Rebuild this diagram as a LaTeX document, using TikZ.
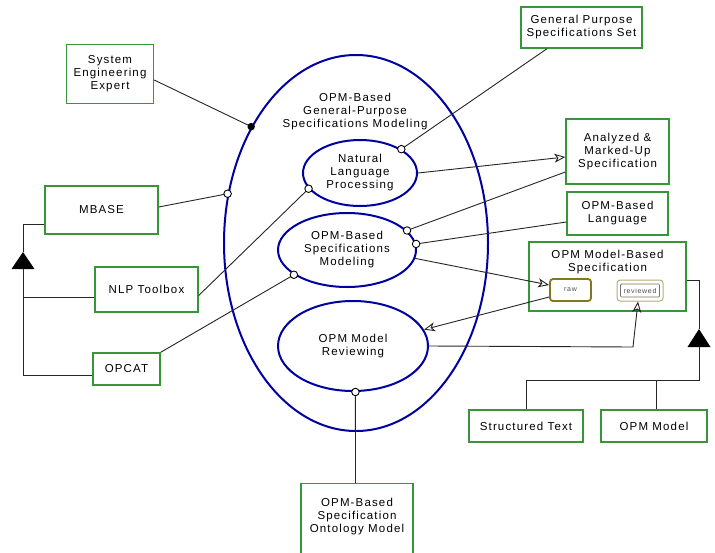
\documentclass[tikz,border=0pt]{standalone}
\usepackage{fontspec}
\setmainfont{Liberation Sans}[LetterSpace=10]
\usetikzlibrary{shapes.geometric,arrows.meta}
\definecolor{boxgreen}{RGB}{56,150,56}
\definecolor{opmblue}{RGB}{0,0,160}
\definecolor{olivestate}{RGB}{130,120,30}
\definecolor{lightolive}{RGB}{185,175,110}
\tikzset{
  txt/.style={font=\fontsize{11.5}{13}\selectfont},
  obj/.style={draw=boxgreen, line width=1.4pt, fill=white, inner sep=0pt, align=center, txt},
  proc/.style={ellipse, draw=opmblue, line width=2pt, inner sep=0pt, align=center, txt},
  link/.style={draw=black!85, line width=0.9pt},
  res/.style={link, -{Stealth[open, length=11pt, width=9pt, inset=3pt]}},
  odot/.style={circle, draw=black, line width=0.9pt, fill=white, minimum size=7.5pt, inner sep=0pt},
  fdot/.style={circle, fill=black, minimum size=7.5pt, inner sep=0pt},
  statebox/.style={rounded corners=3pt, inner sep=0pt, font=\fontsize{7}{8}\selectfont, text=black!70},
}
\begin{document}
\begin{tikzpicture}[x=1pt, y=-1pt]
\useasboundingbox (0,0) rectangle (715,552);
\clip (0,0) rectangle (715,552);
\fill[white] (0,0) rectangle (715,552);

% processes
\node[proc, minimum width=264pt, minimum height=376pt] (outer) at (356,243) {};
\node[align=center, txt] (title) at (355,112) {OPM-Based\\General-Purpose\\Specifications Modeling};
\node[proc, minimum width=114pt, minimum height=66pt] (nlp) at (360,173) {Natural\\Language\\Processing};
\node[proc, minimum width=138pt, minimum height=74pt] (spec) at (347,250) {OPM-Based\\Specifications\\Modeling};
\node[proc, minimum width=150pt, minimum height=90pt] (review) at (353,346) {OPM Model\\Reviewing};

% objects
\node[obj, minimum width=87pt, minimum height=59pt] (see) at (110,74) {System\\Engineering\\Expert};
\node[obj, minimum width=113pt, minimum height=48pt] (mbase) at (101.5,210) {MBASE};
\node[obj, minimum width=103pt, minimum height=45pt] (nlpt) at (146.5,289.5) {NLP Toolbox};
\node[obj, minimum width=67pt, minimum height=32pt] (opcat) at (126.5,369) {OPCAT};
\node[obj, minimum width=121pt, minimum height=41pt] (gpss) at (581.5,27.5) {General Purpose\\Specifications Set};
\node[obj, minimum width=103pt, minimum height=65pt] (amu) at (617.5,151.5) {Analyzed \&\\Marked-Up\\Specification};
\node[obj, minimum width=101pt, minimum height=43pt] (lang) at (617.5,213.5) {OPM-Based\\Language};
\node[obj, minimum width=157pt, minimum height=69pt] (mbs) at (607.5,276.5) {};
\node[align=center, txt] (mbstext) at (607.5,262.5) {OPM Model-Based\\Specification};
\node[statebox, draw=olivestate, line width=1.8pt, fill=white, minimum width=41pt, minimum height=22pt] (raw) at (570.5,290) {raw};
\node[statebox, draw=lightolive, line width=1pt, fill=white, minimum width=46pt, minimum height=21pt] (strev) at (640,290.5) {};
\node[statebox, rounded corners=1pt, draw=black!55, line width=0.7pt, minimum width=39pt, minimum height=13pt] (strevin) at (640,290.5) {reviewed};
\node[obj, minimum width=114pt, minimum height=32pt] (stxt) at (526,426) {Structured Text};
\node[obj, minimum width=106pt, minimum height=32pt] (opmm) at (654,426) {OPM Model};
\node[obj, minimum width=112pt, minimum height=100pt, anchor=north] (onto) at (357,483) {};
\node[align=center, txt] (ontotext) at (357,517) {OPM-Based\\Specification\\Ontology Model};

% links
\draw[link] ([yshift=-6pt]see.east) -- (outer.132.4) node[fdot]{};
\draw[link] ([yshift=3pt]mbase.east) -- (outer.159) node[odot]{};
\draw[link] ([yshift=-6pt]nlpt.east) -- (nlp.197.5) node[odot]{};
\draw[link] (opcat.north east) -- (spec.205.7) node[odot]{};
\draw[link] ([xshift=-34.5pt]gpss.south) -- (nlp.30.8) node[odot]{};
\draw[res] (nlp.east) -- ([yshift=-5.5pt]amu.west);
\draw[link] ([yshift=-20.5pt]amu.west) -- (spec.18.4) node[odot]{};
\draw[link] ([yshift=-8.5pt]lang.west) -- (spec.5.6) node[odot]{};
\draw[res] (spec.-7.4) -- ([yshift=5pt]raw.west);
\draw[res] ([yshift=-7pt]raw.west) -- (review.13.3);
\coordinate (c1) at (633,347);
\draw[res] (review.east) -- (c1) -- ([xshift=-2pt]strev.south);
\draw[link] ([xshift=-1.5pt]onto.north) -- (review.-87) node[odot]{};

% generalization left
\coordinate (tlApex) at (23,252);
\coordinate (tlBase) at (23,269);
\coordinate (tlEnd) at (23,375);
\coordinate (tlNlp) at (23,297);
\draw[link] ([yshift=-14pt]mbase.west) -| (tlApex);
\fill[black] (tlApex) -- (11.5,269) -- (34.5,269) -- cycle;
\draw[link] (tlBase) -- (tlEnd) -- ([yshift=-6pt]opcat.west);
\draw[link] (tlNlp) -- ([yshift=-7.5pt]nlpt.west);

% generalization right
\coordinate (trApex) at (699,329);
\coordinate (trBase) at (699,347);
\coordinate (jr) at (699,380);
\draw[link] ([yshift=-3.5pt]mbs.east) -| (trApex);
\fill[black] (trApex) -- (687.5,347) -- (710.5,347) -- cycle;
\draw[link] (trBase) -- (jr) -| (stxt.north);
\draw[link] ([xshift=2pt]opmm.north) |- (jr);
\end{tikzpicture}
\end{document}
